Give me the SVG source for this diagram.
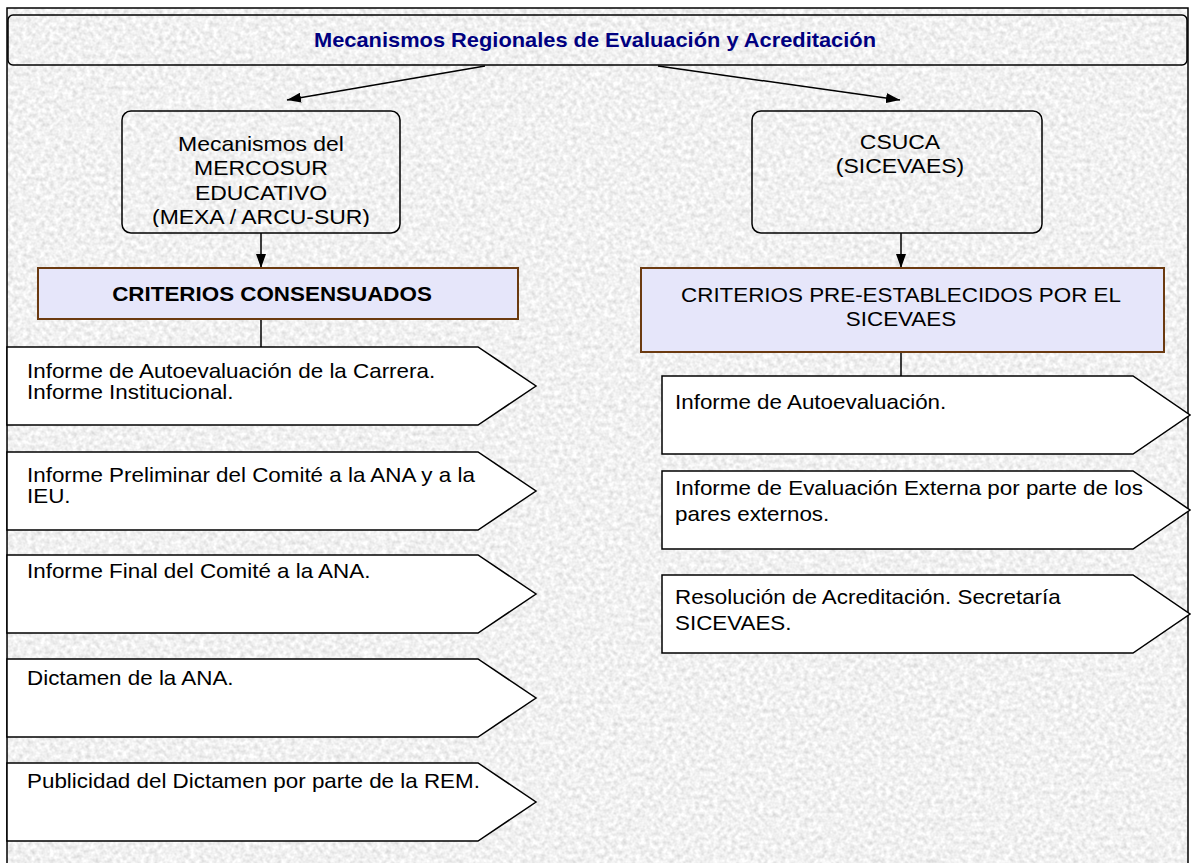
<svg xmlns="http://www.w3.org/2000/svg" width="1191" height="863" viewBox="0 0 1191 863">
<style>
.t{font-family:"Liberation Sans",Arial,sans-serif;font-size:20px;fill:#000}
.tr{font-family:"Liberation Sans",Arial,sans-serif;font-size:20px;fill:#000}
.tb{font-family:"Liberation Sans",Arial,sans-serif;font-size:20.5px;fill:#000;text-anchor:middle}
.bold{font-weight:bold}
.title{font-family:"Liberation Sans",Arial,sans-serif;font-size:19.5px;font-weight:bold;fill:#000080;text-anchor:middle}
.box{fill:none;stroke:#000;stroke-width:1.5}
.crit{fill:#E6E6FA;stroke:#6B3A10;stroke-width:2}
.pent{fill:#fff;stroke:#000;stroke-width:1.5}
.con{fill:none;stroke:#000;stroke-width:1.5}
</style>
<defs>
<filter id="noise" x="0" y="0" width="100%" height="100%" filterUnits="objectBoundingBox">
<feTurbulence type="fractalNoise" baseFrequency="0.22" numOctaves="2" seed="7"/>
<feColorMatrix type="matrix" values="0.5 0 0 0 0.63  0.5 0 0 0 0.63  0.5 0 0 0 0.63  0 0 0 0 1"/>
</filter>
<marker id="arr" viewBox="0 0 14 10" refX="14" refY="5" markerWidth="14" markerHeight="10" markerUnits="userSpaceOnUse" orient="auto">
<path d="M0,0 L14,5 L0,10 z" fill="#000"/>
</marker>
<clipPath id="clipL"><rect x="122" y="111" width="278" height="116"/></clipPath>
</defs>

<g id="background">
<rect x="7" y="8" width="1181" height="855" fill="#ddd" filter="url(#noise)"/>
<rect x="7" y="8" width="1181" height="900" fill="none" stroke="#000" stroke-width="1.5"/>
</g>

<g id="title">
<rect class="box" x="8" y="15" width="1179" height="50" rx="5"/>
<text class="title" transform="translate(595 47) scale(1.12 1)" x="0" y="0">Mecanismos Regionales de Evaluación y Acreditación</text>
</g>

<g id="connectors">
<line class="con" x1="485" y1="66" x2="287" y2="100" marker-end="url(#arr)"/>
<line class="con" x1="658" y1="66" x2="900" y2="100" marker-end="url(#arr)"/>
<line class="con" x1="261" y1="233" x2="261" y2="268" marker-end="url(#arr)"/>
<line class="con" x1="901" y1="233" x2="901" y2="268" marker-end="url(#arr)"/>
<line class="con" x1="261" y1="319" x2="261" y2="347"/>
<line class="con" x1="901" y1="352" x2="901" y2="376"/>
</g>

<g id="mercosur">
<rect class="box" x="122" y="111" width="278" height="122" rx="9"/>
<g clip-path="url(#clipL)">
<text class="tb" transform="translate(261 0) scale(1.12 1)"><tspan x="0" y="151">Mecanismos del</tspan><tspan x="0" y="175.5">MERCOSUR</tspan><tspan x="0" y="200">EDUCATIVO</tspan><tspan x="0" y="224.5">(MEXA / ARCU-SUR)</tspan></text>
</g>
</g>

<g id="csuca">
<rect class="box" x="752" y="111" width="290" height="122" rx="9"/>
<text class="tb" transform="translate(900 0) scale(1.12 1)"><tspan x="0" y="149">CSUCA</tspan><tspan x="0" y="173">(SICEVAES)</tspan></text>
</g>

<g id="criterios-consensuados">
<rect class="crit" x="38" y="268" width="480" height="51"/>
<text class="tb bold" style="font-size:20px" transform="translate(272 301) scale(1.12 1)" x="0" y="0">CRITERIOS CONSENSUADOS</text>
</g>

<g id="criterios-sicevaes">
<rect class="crit" x="641" y="268" width="523" height="84"/>
<text class="tb" style="font-size:20px" transform="translate(901 0) scale(1.12 1)"><tspan x="0" y="302">CRITERIOS PRE-ESTABLECIDOS POR EL</tspan><tspan x="0" y="326">SICEVAES</tspan></text>
</g>

<g id="l1">
<path class="pent" d="M7,347 H478 L536,386 L478,425 H7 Z"/>
<text class="t" transform="translate(27 0) scale(1.12 1)"><tspan x="0" y="378">Informe de Autoevaluación de la Carrera.</tspan><tspan x="0" y="399">Informe Institucional.</tspan></text>
</g>
<g id="l2">
<path class="pent" d="M7,452 H478 L536,491 L478,530 H7 Z"/>
<text class="t" transform="translate(27 0) scale(1.12 1)"><tspan x="0" y="482">Informe Preliminar del Comité a la ANA y a la</tspan><tspan x="0" y="503">IEU.</tspan></text>
</g>
<g id="l3">
<path class="pent" d="M7,555 H478 L536,594 L478,633 H7 Z"/>
<text class="t" transform="translate(27 0) scale(1.12 1)" x="0" y="578">Informe Final del Comité a la ANA.</text>
</g>
<g id="l4">
<path class="pent" d="M7,659 H478 L536,698 L478,737 H7 Z"/>
<text class="t" transform="translate(27 0) scale(1.12 1)" x="0" y="685">Dictamen de la ANA.</text>
</g>
<g id="l5">
<path class="pent" d="M7,763 H478 L536,802 L478,841 H7 Z"/>
<text class="t" transform="translate(27 0) scale(1.12 1)" x="0" y="788">Publicidad del Dictamen por parte de la REM.</text>
</g>

<g id="r1">
<path class="pent" d="M662,376 H1133 L1190,415 L1133,454 H662 Z"/>
<text class="tr" transform="translate(675 0) scale(1.12 1)" x="0" y="409">Informe de Autoevaluación.</text>
</g>
<g id="r2">
<path class="pent" d="M662,471 H1133 L1190,510 L1133,549 H662 Z"/>
<text class="tr" transform="translate(675 0) scale(1.12 1)"><tspan x="0" y="495">Informe de Evaluación Externa por parte de los</tspan><tspan x="0" y="521">pares externos.</tspan></text>
</g>
<g id="r3">
<path class="pent" d="M662,575 H1133 L1190,614 L1133,653 H662 Z"/>
<text class="tr" transform="translate(675 0) scale(1.12 1)"><tspan x="0" y="604">Resolución de Acreditación. Secretaría</tspan><tspan x="0" y="630">SICEVAES.</tspan></text>
</g>
</svg>
